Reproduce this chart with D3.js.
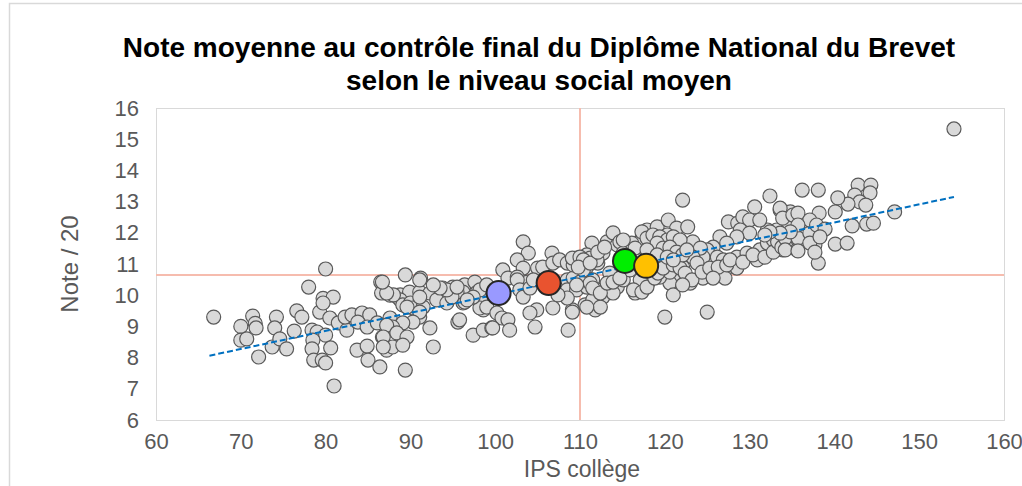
<!DOCTYPE html>
<html>
<head>
<meta charset="utf-8">
<script src="https://cdn.jsdelivr.net/npm/d3@7"></script>
<style>
  body { margin: 0; background: #fff; }
  svg { font-family: "Liberation Sans", Arial, sans-serif; }
</style>
</head>
<body>
<svg id="chart" width="1022" height="486"></svg>
<script>
// IPS collège / note moyenne
const colleges = [
  [66.8,9.30],[70.0,9.00],[70.0,8.56],[70.7,8.60],[71.4,9.33],[71.7,9.10],[71.8,8.95],[72.1,8.02],
  [73.7,8.34],[74.2,9.30],[74.0,8.95],[74.6,8.60],[75.4,8.28],[76.3,8.85],[76.6,9.50],[77.2,9.30],
  [78.0,10.26],[78.4,8.88],[79.0,8.82],[80.0,8.72],[78.5,8.56],[78.4,8.28],[78.6,7.92],[79.6,7.92],
  [80.0,7.83],[80.6,8.31],[81.0,7.09],[79.3,9.46],[79.7,9.90],[80.9,9.94],[79.7,9.75],[80.0,10.84],
  [80.5,9.27],[81.5,9.11],[82.5,8.88],[82.3,9.30],[83.1,9.37],[84.3,9.43],[85.2,9.37],[83.8,9.14],
  [84.9,8.98],[83.7,8.24],[84.9,8.37],[85.0,7.92],[86.4,7.70],[87.2,8.24],[86.7,8.66],[86.1,9.11],
  [87.6,9.27],[88.4,8.98],[89.1,8.56],[87.9,8.34],[89.4,7.60],
  [86.5,10.42],[86.6,10.07],[87.6,10.00],[88.5,9.94],[89.1,9.85],[89.4,10.65],
  [91.2,10.55],[92.9,10.26],[93.8,10.23],[95.0,10.26],[96.4,10.33],[97.6,10.42],[95.0,10.01],[96.2,10.10],
  [88.8,10.01],[89.9,10.10],[91.1,10.10],[92.3,10.07],[93.1,9.85],[94.3,9.75],[96.2,9.75],[97.9,10.10],
  [98.6,9.53],[98.4,9.94],[88.8,9.85],[89.1,9.69],[90.0,9.75],[90.3,9.59],[91.5,9.62],[91.1,9.30],
  [92.3,8.95],[92.7,8.34],[95.6,9.14],[95.8,9.21],[97.4,8.72],[98.6,8.88],[99.6,8.95],
  [96.4,9.78],[95.5,10.10],[94.9,9.94],[94.3,10.17],[93.5,10.23],[92.7,10.33],[91.1,10.49],[91.1,9.94],
  [89.6,9.62],[88.0,10.01],[87.2,10.07],[86.7,10.42],
  [91.1,9.46],[90.3,9.14],[89.1,9.11],[87.9,8.98],[87.2,9.04],[86.8,8.66],[88.4,8.79],[89.6,8.66],
  [89.1,8.40],[86.8,8.34],
  [98.2,9.59],[99.0,9.62],[100.2,9.43],[100.8,9.27],[101.5,9.21],[101.7,8.88],[99.7,8.95],
  [98.2,10.17],[99.0,10.33],[97.4,9.94],[96.7,9.85],[95.5,10.26],
  [103.3,11.71],[103.9,11.35],[102.6,11.13],[103.3,10.87],[100.9,10.81],[101.5,10.55],[102.6,10.58],
  [103.8,10.42],[105.0,10.87],[105.6,10.90],[106.7,11.35],[106.8,11.03],[107.6,11.13],[111.4,11.67],
  [108.5,11.03],[109.2,11.13],[110.0,11.03],[110.8,10.90],[111.5,11.22],[112.1,11.03],
  [102.6,10.49],[102.9,10.17],[103.3,9.94],[104.1,10.23],[104.5,10.49],
  [108.5,10.49],[109.2,10.55],[108.5,10.17],[109.6,10.17],[110.4,10.39],[111.2,10.49],
  [110.0,10.42],[110.8,10.26],[111.5,10.49],[112.0,10.17],[110.6,9.69],[111.8,9.53],[109.1,9.53],
  [108.5,9.91],[107.4,10.01],[106.8,9.59],[104.9,9.53],[104.1,9.43],[104.7,8.98],[108.6,8.88],[109.1,9.46],
  [122.1,13.05],[132.4,13.18],[130.6,12.83],[133.6,12.73],[134.0,12.51],[134.4,12.31],[134.8,12.67],
  [127.5,12.35],[128.6,12.31],[129.2,12.51],[130.0,12.41],[128.9,12.09],[130.0,11.99],[128.5,11.87],
  [126.5,11.87],[127.3,11.67],[125.7,11.54],[125.0,11.45],[124.5,11.22],[126.2,11.22],[126.9,11.13],
  [128.5,11.22],[129.7,11.35],[130.9,11.13],[131.2,11.45],[132.1,11.67],[132.8,11.77],[133.2,12.09],
  [134.4,11.87],[133.9,11.45],[132.1,12.09],
  [117.9,12.09],[119.1,12.19],[120.4,12.41],[121.4,12.15],[122.7,12.19],[120.3,11.93],[121.4,11.67],
  [122.6,11.54],[123.3,11.71],[124.2,11.51],[123.3,11.22],[123.8,11.03],[122.1,10.90],[121.8,10.58],
  [123.0,10.39],[120.6,10.39],[121.0,10.01],[124.5,10.55],[125.7,10.81],[127.1,10.81],[128.5,10.87],
  [127.1,10.55],[125.0,9.46],[120.0,9.30],
  [117.4,11.87],[116.7,11.67],[118.3,11.67],[119.1,11.51],[117.9,11.22],[118.6,10.90],[118.0,10.39],
  [116.5,10.07],[117.1,10.49],[119.4,10.58],[120.6,10.74],
  [113.2,11.71],[113.9,12.00],[114.4,11.61],[112.7,11.35],[112.0,11.13],[110.8,11.29],[109.6,11.19],
  [110.4,10.81],[109.2,10.97],[111.2,10.39],[112.7,9.94],[111.5,9.85],[112.4,9.62],[110.8,9.62],
  [113.5,10.71],[114.4,10.26],[115.1,10.49],[115.9,10.81],[113.2,10.26],[113.9,10.07],
  [109.1,11.19],[110.0,11.22],[110.6,11.13],[111.2,11.19],[110.4,11.13],[109.8,10.90],[111.2,11.03],
  [112.1,11.38],[112.9,11.54],[114.7,11.71],[115.1,11.35],[116.1,11.67],[116.5,11.51],[115.1,11.77],
  [109.6,10.33],[111.5,10.23],[112.4,10.07],[113.2,10.39],[113.9,10.42],[114.7,10.55],[116.3,10.17],
  [117.3,10.10],[117.9,10.26],[118.8,10.55],[119.2,10.71],[119.8,10.87],[121.0,10.97],[121.8,10.87],
  [122.4,10.71],[123.2,10.49],[124.4,10.74],[125.3,10.87],[126.3,10.90],[127.3,10.97],[125.7,10.55],
  [127.7,11.13],[129.2,11.06],[130.4,11.29],[131.8,11.22],[132.8,11.38],[133.3,11.71],[134.4,11.51],
  [117.3,12.03],[117.9,11.83],[118.6,11.93],[119.4,11.87],[120.3,11.77],[121.0,11.87],[121.8,11.77],
  [119.1,11.67],[119.8,11.51],[120.6,11.54],[121.4,11.38],[122.1,11.29],[122.6,11.45],[117.9,11.45],
  [119.1,11.29],[120.3,11.22],[121.0,11.13],[122.1,10.33],
  [133.8,11.54],[135.6,11.45],[134.2,11.83],[135.7,11.83],[137.1,11.99],[137.7,11.61],[138.1,11.03],
  [136.2,13.37],[138.1,13.37],[142.8,13.53],[144.3,13.53],[144.2,13.28],[142.4,13.21],[143.0,12.99],
  [143.7,12.89],[141.6,12.92],[140.4,13.12],[140.1,12.67],[138.2,12.63],[147.1,12.67],[142.1,12.22],
  [143.8,12.28],[144.6,12.31],
  [133.6,12.79],[133.9,12.47],[135.1,12.57],[135.7,12.63],[137.1,12.41],[137.9,12.25],[138.9,12.12],
  [135.7,12.25],[134.8,12.03],[133.6,11.99],[132.4,12.03],[131.8,11.93],[131.2,12.41],
  [134.2,11.45],[135.7,11.42],[137.1,11.67],[137.7,11.38],[138.3,11.87],[140.1,11.64],[141.5,11.67],
  [154.1,15.33]
];

// highlighted colleges (big dots)
const highlightIps = [100.4, 106.3, 115.3, 117.8];
const highlightNotes = [10.07, 10.39, 11.10, 10.94];
const highlightColors = ["#9999ff", "#e9532f", "#00ee00", "#ffc000"];

// linear trend, read at its two ends
const trendIps = [66.3, 154.1];
const trendNotes = [8.06, 13.15];

// reference lines
const refIps = 110;
const refNote = 10.65;

const xTicks = [60, 70, 80, 90, 100, 110, 120, 130, 140, 150, 160];
const yTicks = [6, 7, 8, 9, 10, 11, 12, 13, 14, 15, 16];

const svg = d3.select("#chart");
const plot = {left: 156, right: 1004, top: 108, bottom: 420};

const x = d3.scaleLinear().domain([60, 160]).range([plot.left, plot.right]);
const y = d3.scaleLinear().domain([6, 16]).range([plot.bottom, plot.top]);

// outer frame
svg.append("rect")
   .attr("x", 9.5).attr("y", 3.5)
   .attr("width", 1040).attr("height", 520)
   .attr("fill", "#fff")
   .attr("stroke", "#d9d9d9")
   .attr("stroke-width", 1.5);

// plot area border
svg.append("rect")
   .attr("x", plot.left + 0.5).attr("y", plot.top + 0.5)
   .attr("width", plot.right - plot.left).attr("height", plot.bottom - plot.top)
   .attr("fill", "none")
   .attr("stroke", "#d9d9d9");

// title
const title = svg.append("text")
   .attr("text-anchor", "middle")
   .attr("font-weight", "bold")
   .attr("font-size", 28)
   .attr("fill", "#000");
title.append("tspan").attr("x", 539).attr("y", 57)
     .text("Note moyenne au contrôle final du Diplôme National du Brevet");
title.append("tspan").attr("x", 539).attr("y", 90)
     .text("selon le niveau social moyen");

// axes
const xAxis = svg.append("g")
   .attr("transform", `translate(0,${plot.bottom})`)
   .call(d3.axisBottom(x).tickValues(xTicks).tickSize(0).tickPadding(13));
const yAxis = svg.append("g")
   .attr("transform", `translate(${plot.left},0)`)
   .call(d3.axisLeft(y).tickValues(yTicks).tickSize(0).tickPadding(17));

[xAxis, yAxis].forEach(a => {
  a.select(".domain").remove();
  a.selectAll("text")
   .attr("font-family", "'Liberation Sans', Arial, sans-serif")
   .attr("font-size", 22)
   .attr("fill", "#595959");
});

svg.append("text")
   .attr("x", 582).attr("y", 477)
   .attr("text-anchor", "middle")
   .attr("font-size", 23)
   .attr("fill", "#595959")
   .text("IPS collège");

svg.append("text")
   .attr("transform", `translate(78,${(plot.top + plot.bottom) / 2}) rotate(-90)`)
   .attr("text-anchor", "middle")
   .attr("font-size", 24)
   .attr("fill", "#595959")
   .text("Note / 20");

// reference lines
svg.append("line")
   .attr("x1", x(60)).attr("x2", x(160))
   .attr("y1", y(refNote)).attr("y2", y(refNote))
   .attr("stroke", "#f6bcae").attr("stroke-width", 2);
svg.append("line")
   .attr("x1", x(refIps)).attr("x2", x(refIps))
   .attr("y1", y(6)).attr("y2", y(16))
   .attr("stroke", "#f6bcae").attr("stroke-width", 2);

// points
svg.append("g")
   .selectAll("circle")
   .data(colleges)
   .join("circle")
   .attr("cx", d => x(d[0]))
   .attr("cy", d => y(d[1]))
   .attr("r", 7)
   .attr("fill", "#d9d9d9")
   .attr("stroke", "#595959")
   .attr("stroke-width", 1.2);

// trend
svg.append("line")
   .attr("x1", x(trendIps[0])).attr("y1", y(trendNotes[0]))
   .attr("x2", x(trendIps[1])).attr("y2", y(trendNotes[1]))
   .attr("stroke", "#0070c0")
   .attr("stroke-width", 2)
   .attr("stroke-dasharray", "6,3");

// highlighted colleges
svg.append("g")
   .selectAll("circle")
   .data(highlightIps)
   .join("circle")
   .attr("cx", d => x(d))
   .attr("cy", (d, i) => y(highlightNotes[i]))
   .attr("r", 12)
   .attr("fill", (d, i) => highlightColors[i])
   .attr("stroke", "#262626")
   .attr("stroke-width", 2);
</script>
</body>
</html>
